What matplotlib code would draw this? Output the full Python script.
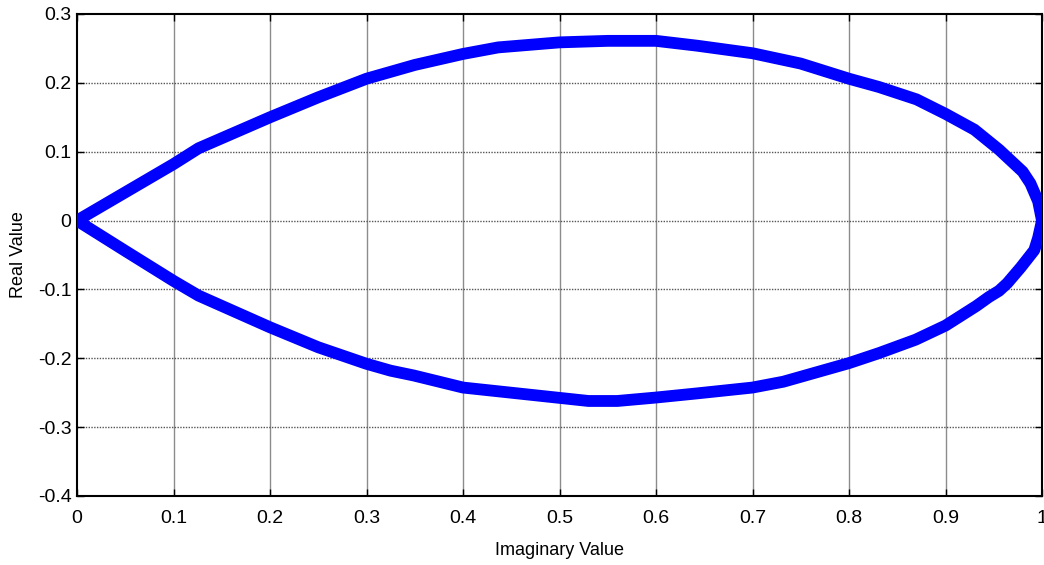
import matplotlib
matplotlib.use("Agg")
import matplotlib.pyplot as plt

plt.rcParams['font.family'] = ['Liberation Sans', 'DejaVu Sans']

# Upper branch (imaginary -> real)
x_upper = [0.0, 0.05, 0.1, 0.126, 0.2, 0.25, 0.3, 0.35, 0.4, 0.4365, 0.5,
           0.55, 0.6, 0.6425, 0.7, 0.75, 0.8, 0.831, 0.87, 0.9, 0.93, 0.9555, 0.98,
           0.988, 0.996, 1.0]
y_upper = [0.0, 0.041, 0.082, 0.105, 0.150, 0.179, 0.206, 0.226, 0.242, 0.2515,
           0.2588, 0.261, 0.261, 0.254, 0.243, 0.228, 0.206, 0.194, 0.176, 0.155,
           0.132, 0.103, 0.071, 0.054, 0.028, 0.0]

# Lower branch
x_lower = [1.0, 0.996, 0.992, 0.978, 0.964, 0.9555, 0.945, 0.932, 0.9, 0.869, 0.831,
           0.8, 0.732, 0.7, 0.6425, 0.6, 0.56, 0.53, 0.5, 0.4, 0.349, 0.325,
           0.3, 0.25, 0.2, 0.126, 0.1, 0.05, 0.0]
y_lower = [0.0, -0.025, -0.043, -0.068, -0.091, -0.102, -0.111, -0.124, -0.1525, -0.173,
           -0.1925, -0.207, -0.234, -0.2425, -0.251, -0.257, -0.262, -0.262,
           -0.2575, -0.2425, -0.225, -0.218, -0.208, -0.184, -0.155, -0.109,
           -0.0876, -0.044, 0.0]

x_ticks = [0, 0.1, 0.2, 0.3, 0.4, 0.5, 0.6, 0.7, 0.8, 0.9, 1]
x_tick_labels = ['0', '0.1', '0.2', '0.3', '0.4', '0.5', '0.6', '0.7', '0.8', '0.9', '1']
y_ticks = [-0.4, -0.3, -0.2, -0.1, 0, 0.1, 0.2, 0.3]
y_tick_labels = ['-0.4', '-0.3', '-0.2', '-0.1', '0', '0.1', '0.2', '0.3']

fig = plt.figure(figsize=(10.44, 5.65), dpi=100)
ax = fig.add_axes([77/1044, 69/565, 965/1044, 482/565])

ax.plot(x_upper + x_lower, y_upper + y_lower, color='#0000ff', linewidth=8.5,
        solid_joinstyle='round', solid_capstyle='round', zorder=3)

ax.set_xlim(0, 1)
ax.set_ylim(-0.4, 0.3)
ax.set_xticks(x_ticks)
ax.set_xticklabels(x_tick_labels)
ax.set_yticks(y_ticks)
ax.set_yticklabels(y_tick_labels)

for v in x_ticks[1:-1]:
    ax.axvline(v, color='#8c8c8c', linewidth=1.0, zorder=1)
for v in y_ticks[1:-1]:
    ax.axhline(v, color='#555555', linewidth=1.0, linestyle=(0, (1, 1)), zorder=1)

ax.tick_params(direction='in', length=5, width=1, top=True, right=True,
               labelsize=14, colors='black')
ax.tick_params(axis='x', pad=10)
ax.tick_params(axis='y', pad=4)
for s in ax.spines.values():
    s.set_linewidth(1.5)
    s.set_color('black')

ax.set_xlabel('Imaginary Value', fontsize=13, labelpad=11)
ax.set_ylabel('Real Value', fontsize=13, labelpad=8)

fig.savefig('out.png', dpi=100)
